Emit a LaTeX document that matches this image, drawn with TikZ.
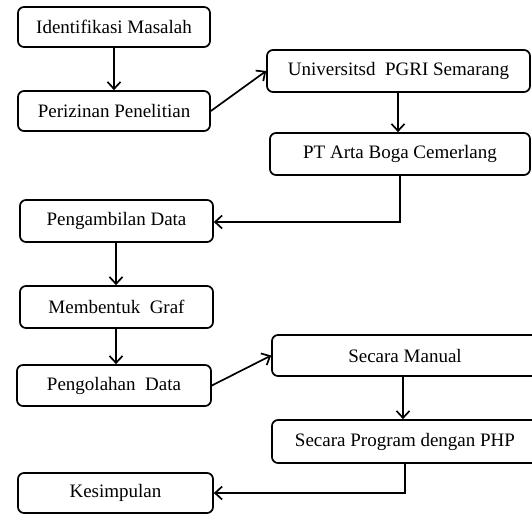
\documentclass[tikz,border=0pt]{standalone}
\usepackage{fontspec}
\setmainfont{Liberation Serif}
\usetikzlibrary{arrows.meta}
\begin{document}
\begin{tikzpicture}[x=1pt,y=-1pt,
  box/.style={draw=black,line width=1.7pt,rounded corners=6pt,fill=white,
    inner sep=0pt,font=\fontsize{19}{22}\selectfont},
  arr/.style={line width=1.7pt,-{Straight Barb[length=7pt,width=13pt,line width=1.7pt]}}]
\clip (0,0) rectangle (532,515);
\useasboundingbox (0,0) rectangle (532,515);
\node[box,minimum width=192pt,minimum height=40pt] (b1) at (114,27) {Identifikasi Masalah};
\node[box,minimum width=192pt,minimum height=40pt] (b2) at (114,111) {Perizinan Penelitian};
\node[box,minimum width=263pt,minimum height=42pt] (b3) at (398.5,71) {Universitsd\ \ PGRI Semarang};
\node[box,minimum width=260pt,minimum height=42pt] (b4) at (400,154) {PT Arta Boga Cemerlang};
\node[box,minimum width=193pt,minimum height=42pt] (b5) at (116.5,221) {Pengambilan Data};
\node[box,minimum width=193pt,minimum height=42pt] (b6) at (116.5,307) {Membentuk\ \ Graf};
\node[box,minimum width=194pt,minimum height=41pt] (b7) at (114,385.5) {Pengolahan\ \ Data};
\node[box,minimum width=266pt,minimum height=41pt] (b8) at (405,355.5) {Secara Manual};
\node[box,minimum width=266pt,minimum height=43pt] (b9) at (405,441.5) {Secara Program dengan PHP};
\node[box,minimum width=195pt,minimum height=40pt] (b10) at (115.5,493) {Kesimpulan};
\coordinate (c1) at (400,222);
\coordinate (c2) at (405,493);
\draw[arr] (b1.south) -- (b2.north);
\draw[arr] (b2.east) -- (b3.west);
\draw[arr] (b3.south -| 398,0) -- (b4.north -| 398,0);
\draw[arr] (b4.south -| c1) -- (c1) -- (c1 -| b5.east);
\draw[arr] (b5.south -| 116,0) -- (b6.north -| 116,0);
\draw[arr] (b6.south -| 116,0) -- (b7.north -| 116,0);
\draw[arr] (b7.east) -- (b8.west);
\draw[arr] (b8.south -| 403,0) -- (b9.north -| 403,0);
\draw[arr] (b9.south -| c2) -- (c2) -- (c2 -| b10.east);
\end{tikzpicture}
\end{document}
